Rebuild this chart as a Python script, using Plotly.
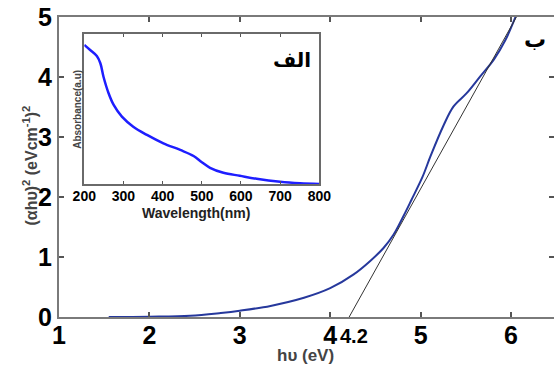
import plotly.graph_objects as go

# Main Tauc plot data: photon energy (eV) vs (alpha h nu)^2
energy = [1.55, 2.0, 2.45, 2.79, 3.0, 3.34, 3.71, 4.0, 4.26, 4.44, 4.59, 4.70,
          4.81, 4.90, 5.02, 5.11, 5.25, 5.365, 5.51, 5.66, 5.81, 5.94, 6.05]
tauc = [0.0, 0.005, 0.02, 0.067, 0.105, 0.185, 0.32, 0.48, 0.71, 0.93, 1.15, 1.37,
        1.68, 1.955, 2.33, 2.68, 3.18, 3.51, 3.73, 4.01, 4.29, 4.62, 5.0]

# Tangent (band-gap extrapolation) line
tangent_x = [4.21, 6.06]
tangent_y = [0.0, 5.0]
gap_label = "4.2"
gap_value = 4.26

# Inset: absorbance spectrum
wavelength = [200, 215, 232, 241, 249, 262, 275, 296, 325, 360, 402, 445, 479, 500,
              521, 555, 597, 640, 700, 751, 800]
absorbance = [0.927, 0.893, 0.853, 0.805, 0.715, 0.605, 0.527, 0.449, 0.382, 0.327,
              0.271, 0.227, 0.187, 0.145, 0.108, 0.075, 0.055, 0.035, 0.015, 0.005, 0.0]

x_ticks = [1, 2, 3, 4, 5, 6]
y_ticks = [0, 1, 2, 3, 4, 5]
inset_ticks = [200, 300, 400, 500, 600, 700, 800]

FONT = "Liberation Sans, Arial, sans-serif"
AR_FONT = "DejaVu Sans, Noto Sans, sans-serif"

fig = go.Figure()

fig.add_trace(go.Scatter(x=energy, y=tauc, mode="lines", line=dict(color="#26389c", width=2, shape="spline"),
                         xaxis="x", yaxis="y", showlegend=False, hoverinfo="skip"))
fig.add_trace(go.Scatter(x=tangent_x, y=tangent_y, mode="lines", line=dict(color="#333333", width=1),
                         xaxis="x", yaxis="y2", showlegend=False, hoverinfo="skip"))
fig.add_trace(go.Scatter(x=wavelength, y=absorbance, mode="lines",
                         line=dict(color="#1e1eff", width=2.5, shape="spline"),
                         xaxis="x2", yaxis="y3", showlegend=False, hoverinfo="skip"))

axis_color = "#7a7a7a"

fig.update_layout(
    width=554, height=369,
    margin=dict(l=59, r=0, t=17, b=52, autoexpand=False),
    paper_bgcolor="white", plot_bgcolor="white",
    font=dict(family=FONT, color="black"),
    xaxis=dict(range=[1, 6.476], tickvals=x_ticks, ticks="inside", ticklen=5, tickwidth=1.5,
               tickcolor="#555", showline=True, linecolor=axis_color, linewidth=2, mirror="ticks",
               showgrid=False, zeroline=False, automargin=False, ticklabelstandoff=-5,
               tickfont=dict(family=FONT, size=25, color="black", weight="bold"), domain=[0, 1]),
    yaxis=dict(range=[0, 5], tickvals=y_ticks, ticks="inside", ticklen=5, tickwidth=1.5,
               tickcolor="#555", showline=True, linecolor=axis_color, linewidth=2, mirror=False,
               showgrid=False, zeroline=False, automargin=False,
               tickfont=dict(family=FONT, size=25, color="black", weight="bold"), domain=[0, 1]),
    yaxis2=dict(range=[0, 5], tickvals=y_ticks, ticks="inside", ticklen=5, tickwidth=1.5,
                tickcolor="#555", overlaying="y", side="right", anchor="x", showline=False,
                showticklabels=False, showgrid=False, zeroline=False, automargin=False),
    xaxis2=dict(range=[200, 800], tickvals=inset_ticks, ticks="inside", ticklen=3, tickwidth=1,
                tickcolor="#555", showline=True, linecolor="#6a6a6a", linewidth=1.5, mirror="ticks",
                showgrid=False, zeroline=False, anchor="y3", domain=[0.0511, 0.5259], automargin=False,
                ticklabelstandoff=-2,
                tickfont=dict(family=FONT, size=14, color="black", weight="bold")),
    yaxis3=dict(range=[0, 1], ticks="", showticklabels=False, showline=True, linecolor="#6a6a6a",
                linewidth=1.5, mirror=True, showgrid=False, zeroline=False, anchor="x2",
                domain=[0.4433, 0.9433], automargin=False),
)

ann = [
    dict(text="hυ (eV)", xref="paper", yref="paper", x=0.498, y=-0.127, showarrow=False,
         font=dict(family=FONT, size=17, color="#444", weight="bold"), xanchor="center", yanchor="middle"),
    dict(text="(αhυ)<sup>2</sup> (eVcm<sup>-1</sup>)<sup>2</sup>", xref="paper", yref="paper",
         x=-0.0586, y=0.505, textangle=-90, showarrow=False,
         font=dict(family=FONT, size=16, color="#444", weight="bold"), xanchor="center", yanchor="middle"),
    dict(text=gap_label, xref="x", yref="paper", x=gap_value, y=-0.062, showarrow=False,
         font=dict(family=FONT, size=20, color="black", weight="bold"), xanchor="center", yanchor="middle"),
    dict(text="ب", xref="x", yref="y", x=6.27, y=4.62, showarrow=False,
         font=dict(family=AR_FONT, size=22, color="black", weight="bold"), xanchor="center", yanchor="middle"),
    dict(text="الف", xref="paper", yref="paper", x=0.4697, y=0.857, showarrow=False,
         font=dict(family=AR_FONT, size=20, color="black", weight="bold"), xanchor="center", yanchor="middle"),
    dict(text="Absorbance(a.u)", xref="paper", yref="paper", x=0.0358, y=0.693, textangle=-90,
         showarrow=False, font=dict(family=FONT, size=10, color="#444", weight="bold"),
         xanchor="center", yanchor="middle"),
    dict(text="Wavelength(nm)", xref="paper", yref="paper", x=0.277, y=0.347, showarrow=False,
         font=dict(family=FONT, size=14, color="#222", weight="bold"), xanchor="center", yanchor="middle"),
]
fig.update_layout(annotations=ann)

fig.write_html("out.html", config={"displayModeBar": False},
               post_script="document.body.style.margin='0px';")
